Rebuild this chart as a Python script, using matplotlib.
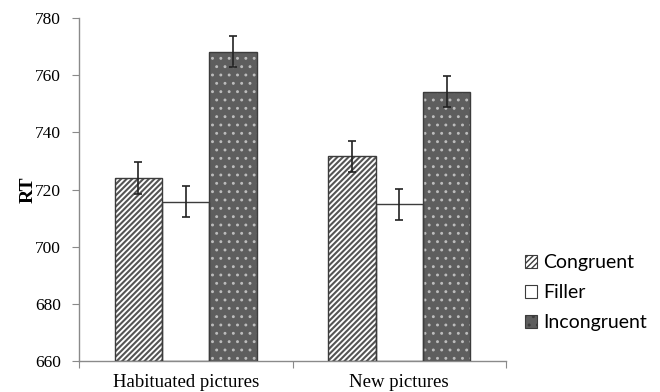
import numpy as np
import matplotlib
matplotlib.use('Agg')
import matplotlib.pyplot as plt
from matplotlib.patches import Patch

# data
groups = ['Habituated pictures', 'New pictures']
conditions = ['Congruent', 'Filler', 'Incongruent']
congruent = [724, 731.6]
filler = [715.8, 714.8]
incongruent = [768.2, 754.2]
errors = [[5.5, 5.5], [5.5, 5.5], [5.5, 5.5]]

fig = plt.figure(figsize=(6.6, 3.92), dpi=100)
ax = fig.add_axes([0.1197, 0.079, 0.647, 0.875])

x = np.arange(len(groups))
width = 0.222
edge = '#3c3c3c'
values = [congruent, filler, incongruent]
faces = ['white', 'white', '#5e5e5e']
hatch_colors = ['#545454', 'white', '#bdbdbd']
hatches = ['//////', None, '..']
hatch_lw = [1.5, 1.0, 0.9]

handles = []
for i in range(3):
    pos = x + (i - 1) * width
    with plt.rc_context({'hatch.linewidth': hatch_lw[i]}):
        ax.bar(pos, np.array(values[i]) - 660, width, bottom=660,
               color=faces[i], edgecolor=hatch_colors[i], hatch=hatches[i],
               linewidth=0, zorder=2)
        if hatches[i]:
            handles.append(Patch(facecolor=faces[i], edgecolor=hatch_colors[i],
                                 hatch=hatches[i], linewidth=0))
        else:
            handles.append(Patch(facecolor='white', edgecolor=edge, linewidth=0.8))
    # outline drawn separately so the hatch colour can differ
    ax.bar(pos, np.array(values[i]) - 660, width, bottom=660,
           fill=False, edgecolor=edge, linewidth=1.0, zorder=3)
    ax.errorbar(pos, values[i], yerr=errors[i], fmt='none', ecolor='#222222',
                elinewidth=1.2, capsize=2.8, capthick=1.2, zorder=4)

ax.set_ylim(660, 780)
ax.set_yticks(np.arange(660, 781, 20))
ax.set_xlim(-0.5, 1.5)
ax.set_xticks([-0.5, 0.5, 1.5])
ax.set_xticklabels([])
ax.set_xticks(x, minor=True)
ax.set_xticklabels(groups, minor=True, fontfamily='Liberation Serif', fontsize=13.5)
ax.tick_params(axis='x', which='minor', length=0, pad=9)
ax.tick_params(axis='x', which='major', length=5, color='#8a8a8a', direction='out')
ax.tick_params(axis='y', length=5, color='#8a8a8a', direction='out', pad=8)
for lab in ax.get_yticklabels():
    lab.set_fontfamily('Liberation Serif')
    lab.set_fontsize(12.5)

for s in ['top', 'right']:
    ax.spines[s].set_visible(False)
for s in ['left', 'bottom']:
    ax.spines[s].set_color('#8a8a8a')
    ax.spines[s].set_linewidth(1.0)

ax.set_ylabel('RT', fontfamily='Liberation Serif', fontweight='bold', fontsize=14, labelpad=-1)

leg = fig.legend(handles, conditions, loc='upper left', bbox_to_anchor=(0.795, 0.352),
                 frameon=False, prop={'family': 'Lato', 'size': 14},
                 handlelength=0.65, handleheight=0.65, handletextpad=0.3,
                 labelspacing=0.68, borderaxespad=0, borderpad=0)
for h in leg.legend_handles:
    h.set_edgecolor(edge)
    h.set_linewidth(0.8)

fig.savefig('out.png', dpi=100)
